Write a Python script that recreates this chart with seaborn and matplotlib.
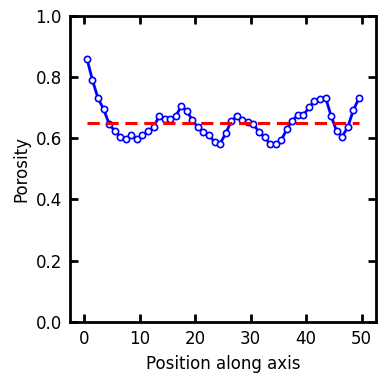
import matplotlib
matplotlib.use("Agg")
import matplotlib.pyplot as plt
import seaborn as sns
import numpy as np
import pandas as pd

sns.set_theme(style="ticks")
plt.rcParams['font.family'] = ['DejaVu Sans']
plt.rcParams['text.color'] = 'black'
plt.rcParams['axes.labelcolor'] = 'black'
plt.rcParams['xtick.color'] = 'black'
plt.rcParams['ytick.color'] = 'black'

# porosity profile
position = [i + 0.5 for i in range(50)]
porosity = [0.861, 0.790, 0.731, 0.696, 0.647, 0.624, 0.606, 0.597, 0.610, 0.597,
            0.610, 0.623, 0.636, 0.673, 0.662, 0.664, 0.672, 0.706, 0.690, 0.659,
            0.636, 0.622, 0.610, 0.588, 0.583, 0.616, 0.656, 0.673, 0.660, 0.653,
            0.647, 0.620, 0.604, 0.580, 0.580, 0.593, 0.630, 0.658, 0.676, 0.676,
            0.701, 0.722, 0.730, 0.733, 0.673, 0.623, 0.606, 0.637, 0.692, 0.731]
mean_porosity = 0.649

df = pd.DataFrame({'Position': position, 'Porosity': porosity})

fig, ax = plt.subplots(figsize=(3.84, 3.83), dpi=100)
sns.lineplot(data=df, x='Position', y='Porosity', ax=ax, color='blue', lw=2,
             marker='o', markersize=4.5, markerfacecolor='white',
             markeredgecolor='blue', markeredgewidth=1.2)
ax.plot([position[0], position[-1]], [mean_porosity, mean_porosity],
        color='red', ls='--', lw=2.2, dashes=(4, 2.2))

ax.set_xlim(-2.5, 52.5)
ax.set_ylim(0, 1)
ax.set_xticks([0, 10, 20, 30, 40, 50])
ax.set_yticks([0.0, 0.2, 0.4, 0.6, 0.8, 1.0])
ax.set_xlabel('Position along axis', fontsize=12, labelpad=5)
ax.set_ylabel('Porosity', fontsize=12, labelpad=4)
ax.tick_params(direction='in', length=6, width=2, labelsize=12,
               top=True, right=True, pad=6, colors='black')
for s in ax.spines.values():
    s.set_linewidth(2)
    s.set_color('black')

fig.subplots_adjust(left=0.183, right=0.978, top=0.958, bottom=0.16)
fig.savefig('out.png', dpi=100)
